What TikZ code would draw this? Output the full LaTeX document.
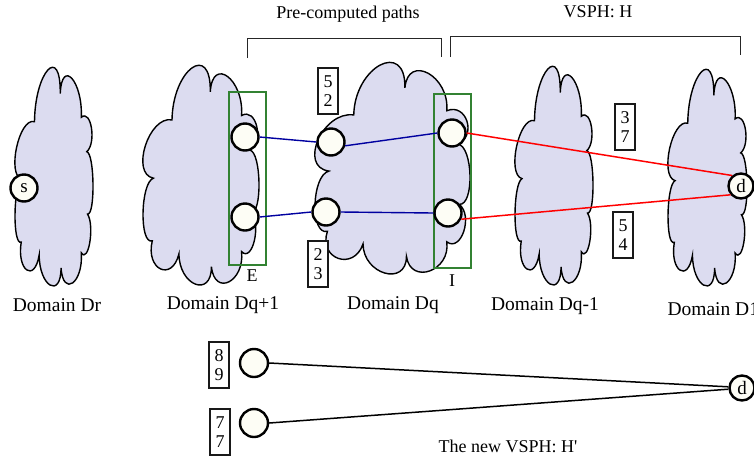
\documentclass[tikz,border=0pt]{standalone}
\usepackage{fontspec}
\setmainfont{Liberation Serif}
\definecolor{cloudfill}{RGB}{220,220,240}
\definecolor{nodefill}{RGB}{253,253,245}
\definecolor{gbox}{RGB}{50,130,50}
\definecolor{pblue}{RGB}{0,0,160}
\newcommand\drawcloud[4]{%
  \begin{scope}[shift={(#1,#2)}, x={1pt*(#3-#1)/100}, y={-1pt*(#4-#2)/100}]
    \path[dom] (25,24)
      .. controls +(0.7,-23.3) and +(0.7,-23.3) .. (58,11)
      .. controls +(2,-16.7) and +(2,-16.7) .. (85,22)
      .. controls +(12.7,-4) and +(12.7,-4) .. (92,38)
      .. controls +(10,0.7) and +(10,0.7) .. (93,67)
      .. controls +(9.3,5.3) and +(9.3,5.3) .. (85,85)
      .. controls +(2.7,14) and +(2.7,14) .. (59,92)
      .. controls +(0,14.7) and +(0,14.7) .. (31,86)
      .. controls +(-6,13.3) and +(-6,13.3) .. (8,80)
      .. controls +(-11.3,2) and +(-11.3,2) .. (9,51)
      .. controls +(-20,-2) and +(-20,-2) .. (25,24)
      -- cycle;
  \end{scope}}
\tikzset{
  dom/.style={draw=black, line width=1.4pt, fill=cloudfill, line join=miter},
  vtx/.style={circle, draw=black, line width=2.4pt, fill=nodefill, minimum size=27pt, inner sep=0pt, font=\fontsize{19}{20}\selectfont},
  numbox/.style={draw=black!90, line width=2pt, fill=white, minimum width=20pt, minimum height=46pt, inner sep=0pt, align=center, font=\fontsize{18}{19}\selectfont},
  grect/.style={draw=gbox, line width=1.1pt},
  lbl/.style={font=\fontsize{19.5}{22}\selectfont},
  ttl/.style={font=\fontsize{18}{20}\selectfont},
  bracket/.style={draw=black!85, line width=1pt},
  bl/.style={draw=pblue, line width=1.4pt},
  rl/.style={draw=red, line width=1.5pt},
  kl/.style={draw=black, line width=1.5pt}
}
\begin{document}
\begin{tikzpicture}[x=1pt,y=-1pt]
\path[use as bounding box] (0,0) rectangle (754,464);
% clouds
\drawcloud{15}{70}{93}{285}
\drawcloud{143}{68}{259}{284}
\drawcloud{315}{65}{470}{273}
\drawcloud{515}{69}{593}{284}
\drawcloud{668}{72}{747}{285}
% green rectangles
\draw[grect] (229,92) rectangle (266,265);
\draw[grect] (434,94) rectangle (471,268);
% brackets
\draw[bracket] (247,58) -- (247,38) -- (441,38) -- (441,57);
\draw[bracket] (450,57) -- (450,36) -- (740,36) -- (740,55);
% titles
\node[ttl] (t1) at (348,14) {Pre-computed paths};
\node[ttl] (t2) at (598,12) {VSPH: H};
\node[ttl] (t3) at (508,446) {The new VSPH: H\textquotesingle};
% domain labels
\node[lbl] (lDr) at (57,305) {Domain Dr};
\node[lbl] (lDq1) at (223,305) {Domain Dq+1};
\node[lbl] (lDq) at (393,305) {Domain Dq};
\node[lbl] (lDqm) at (545,306) {Domain Dq-1};
\node[lbl, anchor=west] (lD1) at (664,309) {Domain D1};
\node[ttl] (lE) at (252,276) {E};
\node[ttl] (lI) at (452,281) {I};
% vertices
\node[vtx] (s) at (24,188) {s};
\node[vtx] (E1) at (245,137) {};
\node[vtx] (E2) at (245,217) {};
\node[vtx] (Q1) at (331,142) {};
\node[vtx] (Q2) at (326,212) {};
\node[vtx] (I1) at (452,133) {};
\node[vtx] (I2) at (448,213) {};
\node[vtx, minimum size=25pt] (d) at (741,186) {d};
\node[vtx, minimum size=28pt] (B1) at (254,363) {};
\node[vtx, minimum size=28pt] (B2) at (254,423) {};
\node[vtx, minimum size=25pt] (d2) at (742,388) {d};
% edges
\draw[bl] (E1.east) -- (Q1.west);
\draw[bl] (E2.east) -- (Q2.west);
\draw[bl] (Q1.-15) -- (I1.west);
\draw[bl] (Q2.east) -- (I2.west);
\draw[rl] (I1.east) -- (d.130);
\draw[rl] (I2.-25) -- (d.220);
\draw[kl] (B1.east) -- (d2.175);
\draw[kl] (B2.east) -- (d2.185);
% number boxes
\node[numbox] (n52) at (328,91) {5\\2};
\node[numbox] (n23) at (318,264) {2\\3};
\node[numbox] (n37) at (625,127) {3\\7};
\node[numbox] (n54) at (623,235) {5\\4};
\node[numbox] (n89) at (219,365) {8\\9};
\node[numbox] (n77) at (220,432) {7\\7};
\end{tikzpicture}
\end{document}
